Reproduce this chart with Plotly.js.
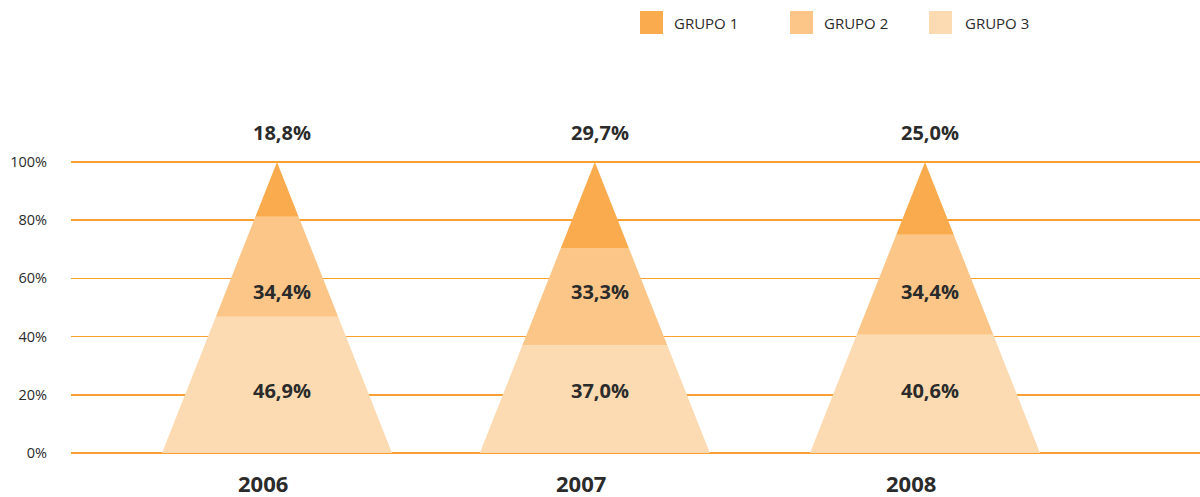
<!DOCTYPE html>
<html>
<head>
<meta charset="utf-8">
<script src="https://cdn.plot.ly/plotly-3.0.1.min.js"></script>
<style>html,body{margin:0;padding:0;background:#fff;}#chart{width:1200px;height:497px;}</style>
</head>
<body>
<div id="chart"></div>
<script>
// ---- data ----
const years = ['2006', '2007', '2008'];
const grupo1 = [18.8, 29.7, 25.0];
const grupo2 = [34.4, 33.3, 34.4];
const grupo3 = [46.9, 37.0, 40.6];
const seriesNames = ['GRUPO 1', 'GRUPO 2', 'GRUPO 3'];
const yTickVals = [0, 20, 40, 60, 80, 100];
const yTickText = ['0%', '20%', '40%', '60%', '80%', '100%'];

// ---- styling / layout ----
const colors = {'GRUPO 1': '#F9AB4D', 'GRUPO 2': '#FDC689', 'GRUPO 3': '#FDDBB2'};
const gridColor = '#F8A033';
const textColor = '#2b2b2b';
const font = 'Open Sans, Noto Sans, sans-serif';
const xPos = [0, 0.981, 2];   // horizontal placement of the three cones
const halfWidth = 0.355;      // half width of each cone base, in x units
const labelYg2 = 55.5;        // fixed label heights used in the original
const labelYg3 = 21.5;

function fmt(v) { return v.toFixed(1).replace('.', ',') + '%'; }

const traces = [];
years.forEach((yr, i) => {
  const c = xPos[i];
  const segs = [['GRUPO 3', grupo3[i]], ['GRUPO 2', grupo2[i]], ['GRUPO 1', grupo1[i]]];
  const total = grupo1[i] + grupo2[i] + grupo3[i];
  let cum = 0;
  segs.forEach(([name, v]) => {
    const b = cum / total * 100;
    cum += v;
    const t = cum / total * 100;
    const wb = halfWidth * (1 - b / 100), wt = halfWidth * (1 - t / 100);
    traces.push({
      type: 'scatter', mode: 'lines', fill: 'toself',
      x: [c - wb, c + wb, c + wt, c - wt, c - wb],
      y: [b, b, t, t, b],
      fillcolor: colors[name], line: {width: 0, color: colors[name]},
      showlegend: false, hoverinfo: 'skip', name: name
    });
  });
});

const annotations = [];
years.forEach((yr, i) => {
  const c = xPos[i];
  annotations.push({x: c, y: 100, yshift: 29, xshift: 5, text: '<b>' + fmt(grupo1[i]) + '</b>', showarrow: false,
    font: {family: font, size: 20, color: textColor}, xref: 'x', yref: 'y'});
  annotations.push({x: c, y: labelYg2, xshift: 5, text: '<b>' + fmt(grupo2[i]) + '</b>', showarrow: false,
    font: {family: font, size: 20, color: textColor}, xref: 'x', yref: 'y'});
  annotations.push({x: c, y: labelYg3, xshift: 5, text: '<b>' + fmt(grupo3[i]) + '</b>', showarrow: false,
    font: {family: font, size: 20, color: textColor}, xref: 'x', yref: 'y'});
  annotations.push({x: c, y: 0, yshift: -46, xshift: -14, yanchor: 'bottom', borderpad: 0,
    text: '<b>' + yr + '</b>', showarrow: false,
    font: {family: font, size: 22, color: textColor}, xref: 'x', yref: 'y'});
});

// custom legend (squares + text) above the plot
const shapes = [];
const plotL = 71, plotW = 1129, plotBottom = 459, plotH = 303;
const legendX = [640, 790, 929];
const legendTextX = [672, 822, 963];
seriesNames.forEach((n, k) => {
  shapes.push({type: 'rect', xref: 'paper', yref: 'paper',
    x0: (legendX[k] - plotL) / plotW, x1: (legendX[k] + 23 - plotL) / plotW,
    y0: (plotBottom - 34) / plotH, y1: (plotBottom - 11) / plotH,
    fillcolor: colors[n], line: {width: 0}});
  annotations.push({xref: 'paper', yref: 'paper', x: (legendTextX[k] - plotL) / plotW, y: (plotBottom - 22.5) / plotH,
    xanchor: 'left', yanchor: 'middle', text: n, showarrow: false,
    font: {family: font, size: 15, color: textColor}});
});

const layout = {
  width: 1200, height: 497,
  margin: {l: 71, r: 0, t: 156, b: 38},
  paper_bgcolor: '#fff', plot_bgcolor: '#fff',
  showlegend: false,
  xaxis: {range: [(71 - 277) / 324, (1200 - 277) / 324], showgrid: false, zeroline: false,
    showticklabels: false, showline: false, fixedrange: true},
  yaxis: {range: [-2.06, 102.06], tickvals: yTickVals, ticktext: yTickText, showgrid: true,
    gridcolor: gridColor, gridwidth: 1.5, zeroline: false, showline: false,
    ticks: 'outside', ticklen: 20, tickcolor: 'rgba(0,0,0,0)',
    tickfont: {family: font, size: 14.5, color: textColor}, fixedrange: true},
  annotations: annotations,
  shapes: shapes
};

Plotly.newPlot('chart', traces, layout, {displayModeBar: false, staticPlot: true});
</script>
</body>
</html>
